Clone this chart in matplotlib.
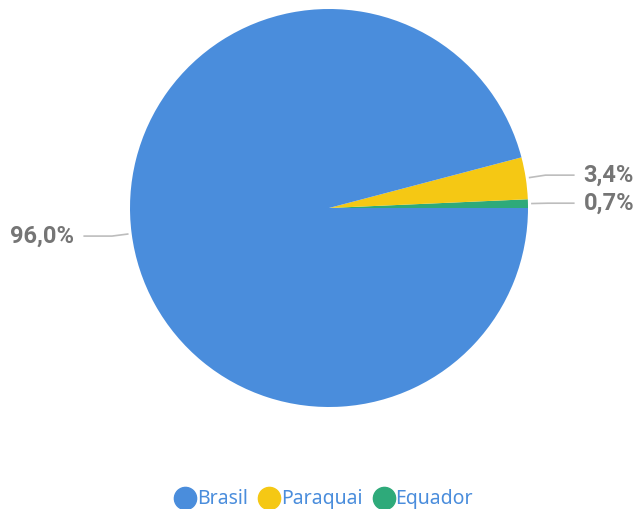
import numpy as np
import matplotlib
matplotlib.use("Agg")
import matplotlib.pyplot as plt
from matplotlib.lines import Line2D

# data (drawn counterclockwise from 0 deg: Equador, Paraquai, Brasil)
countries = ["Brasil", "Paraquai", "Equador"]
shares = [96.0, 3.4, 0.7]
labels = ["96,0%", "3,4%", "0,7%"]
colors = ["#4a8ddc", "#f5c814", "#2eaa7a"]

fig = plt.figure(figsize=(6.38, 5.09), dpi=100)
cx, cy, r = 329, 208, 199
ax = fig.add_axes([(cx - r) / 638, (509 - cy - r) / 509, 2 * r / 638, 2 * r / 509])

order = [2, 1, 0]
vals = [shares[i] for i in order]
wedges, _ = ax.pie(vals, colors=[colors[i] for i in order], startangle=0,
                   counterclock=True, radius=1,
                   wedgeprops=dict(linewidth=0))
ax.set_xlim(-1, 1)
ax.set_ylim(-1, 1)
ax.set_aspect("equal")
ax.axis("off")

# leader lines + labels
for w, i in zip(wedges, order):
    ang = np.deg2rad((w.theta1 + w.theta2) / 2)
    c, s = np.cos(ang), np.sin(ang)
    side = 1 if c >= 0 else -1
    x0, y0 = 1.02 * c, 1.02 * s
    x1, y1 = 1.10 * c, 1.10 * s
    x2 = side * 1.23
    ax.plot([x0, x1, x2], [y0, y1, y1], color="#bdbdbd", lw=1.2, clip_on=False)
    ax.text(side * 1.28, y1, labels[i], ha="left" if side > 0 else "right",
            va="center", fontsize=17, fontweight="bold", color="#757575",
            family="Roboto")

handles = [Line2D([], [], marker="o", linestyle="", markersize=16,
                  markerfacecolor=colors[i], markeredgecolor=colors[i])
           for i in range(3)]
fig.legend(handles, countries, loc="center", bbox_to_anchor=(0.507, 0.019),
           ncol=3, frameon=False, handletextpad=0.0, columnspacing=0.5,
           handlelength=1.2, labelcolor="#4a8ddc",
           prop={"family": "Noto Sans", "size": 14})

fig.savefig("out.png", dpi=100)
